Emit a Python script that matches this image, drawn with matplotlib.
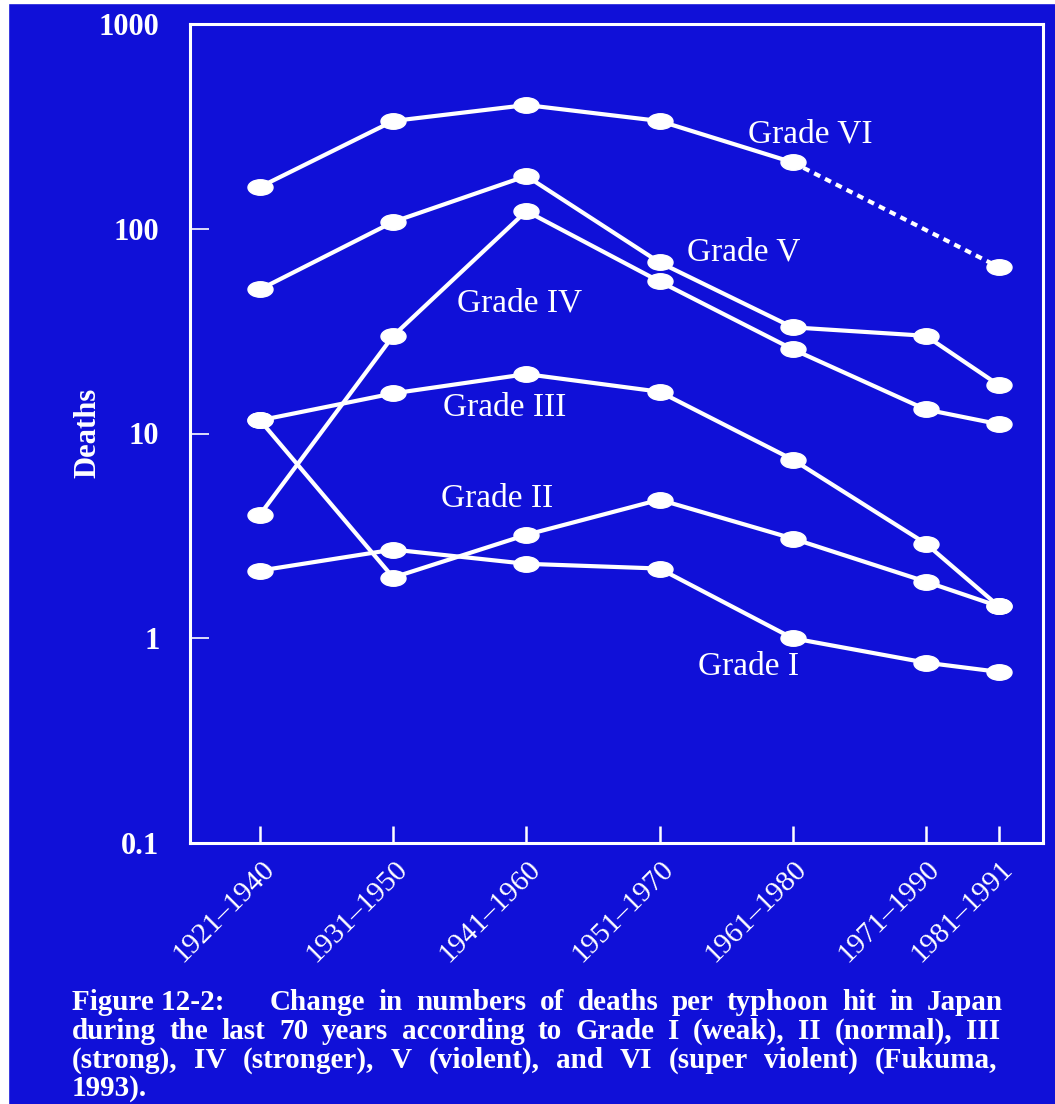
import matplotlib
matplotlib.use("Agg")
import matplotlib.pyplot as plt
from matplotlib.path import Path
from matplotlib.transforms import Affine2D, ScaledTranslation
from matplotlib.patches import Rectangle

# periods on the x axis (plotted at the period midpoints)
periods = ["1921–1940", "1931–1950", "1941–1960", "1951–1970",
           "1961–1980", "1971–1990", "1981–1991"]
mid_years = [1930.5, 1940.5, 1950.5, 1960.5, 1970.5, 1980.5, 1986.0]

# deaths per typhoon hit, by grade
grade1 = [2.14, 2.71, 2.31, 2.19, 1.0, 0.76, 0.685]
grade2 = [11.6, 1.98, 3.2, 4.75, 3.07, 1.89, 1.43]
grade3 = [11.6, 15.7, 19.5, 16.0, 7.46, 2.9, 1.43]
grade4 = [4.02, 30.0, 122, 55.3, 25.8, 13.1, 11.1]
grade5 = [50.6, 108, 181, 68.5, 33.0, 30.0, 17.2]
grade6 = [160, 336, 402, 336, 211, None, 64.9]   # no 1971-1990 value, dotted to 1981-1991

caption = [
    "Change in numbers of deaths per typhoon hit in Japan",
    "during the last 70 years according to Grade I (weak), II (normal), III",
    "(strong), IV (stronger), V (violent), and VI (super violent) (Fukuma,",
    "1993).",
]

BLUE = "#1010d8"
W = "white"

plt.rcParams["font.family"] = "Liberation Serif"

fig = plt.figure(figsize=(10.55, 11.04), dpi=100)
fig.patch.set_facecolor(BLUE)
# thin white scan border on the left and top
fig.patches.append(Rectangle((0, 0), 8 / 1055, 1, transform=fig.transFigure, color=W, zorder=0))
fig.patches.append(Rectangle((0, 1 - 3 / 1104), 1, 3 / 1104, transform=fig.transFigure, color=W, zorder=0))

ax = fig.add_axes([190 / 1055, 1 - 843 / 1104, 853 / 1055, 819 / 1104])
ax.set_facecolor(BLUE)

oval = Affine2D().scale(1.0, 0.62).transform_path(Path.unit_circle())
style = dict(color=W, lw=3.0, marker=oval, markersize=18, solid_capstyle="round", zorder=3)

for g in [grade1, grade2, grade3, grade4, grade5]:
    ax.plot(mid_years, g, **style)

xs6 = [x for x, v in zip(mid_years, grade6) if v is not None]
vs6 = [v for v in grade6 if v is not None]
ax.plot(xs6[:-1], vs6[:-1], **style)
ax.plot(xs6[-2:], vs6[-2:], color=W, lw=3.0, linestyle=(0, (1.6, 1.3)), zorder=2)
ax.plot(xs6[-1:], vs6[-1:], color=W, lw=0, marker=oval, markersize=18, zorder=3)

ax.set_yscale("log")
ax.set_ylim(0.1, 1000)
ax.set_xlim(1925.24, 1989.3)
ax.set_yticks([0.1, 1, 10, 100, 1000])
ax.set_yticklabels(["0.1", "1", "10", "100", "1000"], fontweight="bold")
ax.yaxis.set_minor_locator(matplotlib.ticker.NullLocator())
ax.set_xticks(mid_years)
ax.set_xticklabels(periods, rotation=45, ha="right", va="center", rotation_mode="anchor")

ax.tick_params(axis="y", direction="in", length=14, width=1.2, colors=W, labelsize=22, pad=22)
ax.tick_params(axis="x", direction="in", length=12, width=1.8, colors=W, labelsize=21, pad=16)
for lbl in ax.get_xticklabels():
    lbl.set_transform(lbl.get_transform() + ScaledTranslation(0.10, 0, fig.dpi_scale_trans))
for s in ax.spines.values():
    s.set_color(W)
    s.set_linewidth(2.2)

ax.set_ylabel("Deaths", color=W, fontsize=22, fontweight="bold")
ax.yaxis.set_label_coords(-88 / 853, (843 - 433) / 819)

# curve labels
lab = dict(color=W, fontsize=24, ha="center", va="baseline", zorder=4)
ax.text(1971.8, 265, "Grade VI", **lab)
ax.text(1966.8, 70, "Grade V", **lab)
ax.text(1950.0, 39.5, "Grade IV", **lab)
ax.text(1948.9, 12.2, "Grade III", **lab)
ax.text(1948.3, 4.4, "Grade II", **lab)
ax.text(1967.2, 0.66, "Grade I", **lab)

# figure caption, justified like the printed one
renderer = fig.canvas.get_renderer()
cap = dict(color=W, fontsize=21, fontweight="bold", va="baseline")


def justify(line, x0, x1, ypix):
    words = line.split(" ")
    texts = [fig.text(0, 1 - ypix / 1104, w, **cap) for w in words]
    widths = [t.get_window_extent(renderer).width for t in texts]
    gap = (x1 - x0 - sum(widths)) / max(len(words) - 1, 1)
    x = x0
    for t, w in zip(texts, widths):
        t.set_x(x / 1055)
        x += w + gap


fig.text(72 / 1055, 1 - 1010 / 1104, "Figure 12-2:", **cap)
justify(caption[0], 270, 1003, 1010)
justify(caption[1], 72, 1000, 1039)
justify(caption[2], 72, 997, 1067.5)
fig.text(72 / 1055, 1 - 1096 / 1104, caption[3], **cap)

fig.savefig("out.png", dpi=100, facecolor=BLUE)
